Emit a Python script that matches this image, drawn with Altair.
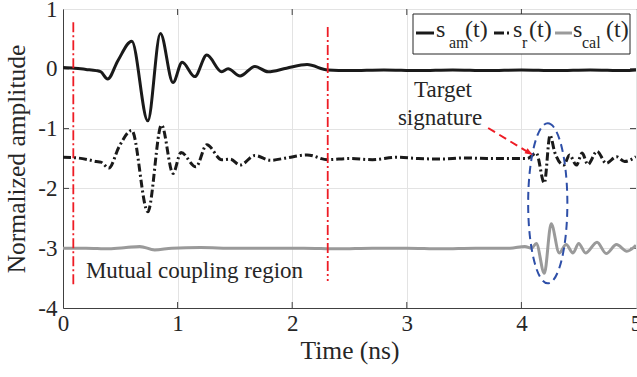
import altair as alt
import pandas as pd

FONT = "Liberation Serif"
INK = "#262626"

# ---------------- data ----------------
t_am = [0.00, 0.10, 0.20, 0.29, 0.33, 0.39, 0.48, 0.60, 0.74, 0.85, 0.96, 1.04, 1.15, 1.255,
        1.385, 1.44, 1.545, 1.675, 1.79, 1.95, 2.13, 2.31, 2.50, 2.80, 3.10, 3.40, 3.70, 4.00,
        4.30, 4.60, 4.90, 5.00]
v_am = [0.02, 0.01, -0.01, -0.03, -0.05, -0.17, 0.14, 0.46, -0.87, 0.59, -0.23, 0.11, -0.13, 0.23,
        -0.05, 0.00, -0.12, 0.04, -0.05, 0.01, 0.07, -0.02, -0.03, -0.02, -0.03, -0.02, -0.03, -0.02,
        -0.03, -0.02, -0.03, -0.02]

t_r = [0.00, 0.12, 0.22, 0.29, 0.33, 0.40, 0.49, 0.60, 0.74, 0.86, 0.96, 1.03, 1.16, 1.255,
       1.385, 1.46, 1.545, 1.675, 1.81, 1.95, 2.13, 2.31, 2.50, 2.70, 2.91, 3.10, 3.30, 3.50,
       3.70, 3.90, 4.05, 4.13, 4.20, 4.25, 4.29, 4.37, 4.42, 4.48, 4.53, 4.58, 4.66, 4.74,
       4.83, 4.90, 5.00]
v_r = [-1.48, -1.49, -1.52, -1.55, -1.56, -1.66, -1.30, -1.03, -2.39, -0.94, -1.75, -1.40, -1.64, -1.27,
       -1.52, -1.51, -1.61, -1.45, -1.53, -1.49, -1.44, -1.52, -1.50, -1.52, -1.48, -1.50, -1.51, -1.49,
       -1.50, -1.50, -1.50, -1.41, -1.91, -1.11, -1.39, -1.61, -1.44, -1.61, -1.41, -1.60, -1.38, -1.58,
       -1.47, -1.55, -1.47]

t_cal = [0.00, 0.20, 0.40, 0.55, 0.67, 0.80, 0.95, 1.20, 1.50, 1.80, 2.10, 2.40, 2.70, 3.00,
         3.30, 3.60, 3.90, 4.03, 4.09, 4.13, 4.20, 4.26, 4.33, 4.39, 4.45, 4.50, 4.56, 4.66,
         4.74, 4.83, 4.92, 5.00]
v_cal = [-3.00, -3.00, -3.01, -2.99, -2.97, -3.03, -3.00, -2.99, -3.00, -3.00, -3.00, -3.01, -3.00, -3.00,
         -3.01, -3.00, -3.00, -2.97, -3.00, -2.92, -3.42, -2.59, -3.08, -2.94, -3.08, -2.92, -3.08, -2.90,
         -3.09, -2.94, -3.05, -2.95]

# mutual-coupling boundary markers
t_mark = [0.09, 2.31]
v_mark_top = [0.78, 0.70]
v_mark_bot = [-3.62, -3.55]

x_ticks = [0, 1, 2, 3, 4, 5]
y_ticks = [-4, -3, -2, -1, 0, 1]

# ---------------- layout ----------------
W, H = 573, 299

xs = alt.Scale(domain=[0, 5], nice=False, zero=False)
ys = alt.Scale(domain=[-4, 1], nice=False, zero=False)
x_axis = alt.Axis(values=x_ticks, title="Time (ns)", grid=True, ticks=False, labelFlush=False,
                  labelOverlap=False, labelExpr="'' + datum.value", labelPadding=4, titlePadding=3)
y_axis = alt.Axis(values=y_ticks, title="Normalized amplitude", grid=True, ticks=False, labelFlush=False,
                  labelOverlap=False, labelExpr="'' + datum.value", labelPadding=6, titlePadding=8)


def X(field="t"):
    return alt.X(f"{field}:Q", scale=xs, axis=x_axis)


def Y(field="v"):
    return alt.Y(f"{field}:Q", scale=ys, axis=y_axis)


def series(t, v, color, dash=None, width=3):
    df = pd.DataFrame({"t": t, "v": v})
    kw = dict(color=color, strokeWidth=width, interpolate="monotone", clip=True)
    if dash:
        kw["strokeDash"] = dash
    return alt.Chart(df).mark_line(**kw).encode(x=X(), y=Y(), order="t:Q")


one = pd.DataFrame({"k": [0]})


def txt(s, x, y, size, align="left", color=INK):
    return alt.Chart(pd.DataFrame({"s": [s]})).mark_text(
        font=FONT, fontSize=size, align=align, baseline="alphabetic", color=color
    ).encode(x=alt.value(x), y=alt.value(y), text="s:N")


def dtxt(s, t, v, size, align="left"):
    return alt.Chart(pd.DataFrame({"s": [s], "t": [t], "v": [v]})).mark_text(
        font=FONT, fontSize=size, align=align, baseline="alphabetic", color=INK
    ).encode(x=X(), y=Y(), text="s:N")


# inward tick marks (MATLAB box style)
xt = pd.DataFrame({"t": x_ticks[1:-1]})
yt = pd.DataFrame({"v": y_ticks[1:-1]})
tick_kw = dict(color="#404040", strokeWidth=1)
ticks = [
    alt.Chart(xt).mark_rule(**tick_kw).encode(x=X(), y=alt.value(H), y2=alt.value(H - 6)),
    alt.Chart(xt).mark_rule(**tick_kw).encode(x=X(), y=alt.value(0), y2=alt.value(6)),
    alt.Chart(yt).mark_rule(**tick_kw).encode(y=Y(), x=alt.value(0), x2=alt.value(6)),
    alt.Chart(yt).mark_rule(**tick_kw).encode(y=Y(), x=alt.value(W - 6), x2=alt.value(W)),
]

l_am = series(t_am, v_am, "#1a1a1a")
l_r = series(t_r, v_r, "#1a1a1a", dash=[8, 3, 2, 3])
l_cal = series(t_cal, v_cal, "#9a9a9a")

marks_df = pd.DataFrame({"t": t_mark, "v": v_mark_top, "v2": v_mark_bot})
red_lines = alt.Chart(marks_df).mark_rule(color="#ee1c25", strokeWidth=1.8, strokeDash=[10, 3, 2, 3]).encode(
    x=X(), y=Y(), y2="v2:Q")

# ellipse around the target signature
ell = alt.Chart(pd.DataFrame({"t": [4.23], "v": [-2.25]})).mark_point(
    shape="M0,-1C0.1353,-1,0.245,-0.5523,0.245,0C0.245,0.5523,0.1353,1,0,1"
          "C-0.1353,1,-0.245,0.5523,-0.245,0C-0.245,-0.5523,-0.1353,-1,0,-1Z",
    size=25600, filled=False, stroke="#2e4fa8", strokeWidth=2, strokeDash=[8, 5], opacity=1,
).encode(x=X(), y=Y())

# arrow
arrow_df = pd.DataFrame({"t": [3.71], "v": [-0.99], "t2": [4.08], "v2": [-1.42]})
arrow_line = alt.Chart(arrow_df).mark_rule(color="#ee1c25", strokeWidth=2, strokeDash=[8, 5]).encode(
    x=X(), y=Y(), x2="t2:Q", y2="v2:Q")
arrow_head = alt.Chart(pd.DataFrame({"t": [4.10], "v": [-1.44]})).mark_point(
    shape="M0,0L-2,-0.75L-2,0.75Z", size=64, angle=31, filled=True, color="#ee1c25", opacity=1
).encode(x=X(), y=Y())

annots = [
    dtxt("Mutual coupling region", 0.20, -3.49, 23),
    dtxt("Target", 3.316, -0.47, 23, align="center"),
    dtxt("signature", 3.29, -0.94, 23, align="center"),
]

# custom legend (subscripts)
LY = 24
legend = [
    alt.Chart(one).mark_rect(fill="white", stroke=INK, strokeWidth=1).encode(
        x=alt.value(350), x2=alt.value(567), y=alt.value(5), y2=alt.value(45)),
    alt.Chart(one).mark_rule(color="#1a1a1a", strokeWidth=3).encode(
        x=alt.value(353), x2=alt.value(371), y=alt.value(LY)),
    alt.Chart(one).mark_rule(color="#1a1a1a", strokeWidth=3, strokeDash=[10, 3, 2, 3]).encode(
        x=alt.value(431), x2=alt.value(448), y=alt.value(LY)),
    alt.Chart(one).mark_rule(color="#9a9a9a", strokeWidth=3).encode(
        x=alt.value(492), x2=alt.value(509), y=alt.value(LY)),
    txt("s", 373, 28, 24), txt("am", 386, 39, 16), txt("(t)", 402, 28, 24),
    txt("s", 450, 28, 24), txt("r", 459, 39, 16), txt("(t)", 466, 28, 24),
    txt("s", 510, 28, 24), txt("cal", 519, 39, 16), txt("(t)", 543, 28, 24),
]

chart = alt.layer(
    *ticks, l_am, l_r, l_cal, red_lines, ell, arrow_line, arrow_head, *annots, *legend
).properties(
    width=W, height=H,
    padding={"left": 63, "top": 9, "right": 1, "bottom": 69},
    autosize=alt.AutoSizeParams(type="none"),
    background="white",
).configure_view(
    stroke="#404040", strokeWidth=1
).configure_axis(
    labelFont=FONT, titleFont=FONT, labelFontSize=23, titleFontSize=25.5, titleFontWeight="normal",
    labelColor=INK, titleColor=INK, domainColor="#404040", gridColor="#e3e3e3", gridWidth=1,
)

chart.save("out.html", embed_options={"renderer": "svg", "actions": False})
